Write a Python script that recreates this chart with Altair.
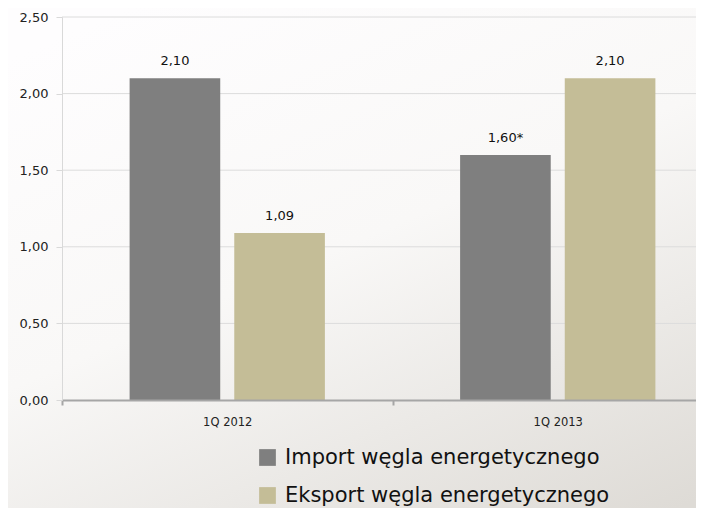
import altair as alt
import pandas as pd

categories = ["1Q 2012", "1Q 2012", "1Q 2013", "1Q 2013"]
series = ["Import węgla energetycznego", "Eksport węgla energetycznego",
          "Import węgla energetycznego", "Eksport węgla energetycznego"]
values = [2.10, 1.09, 1.60, 2.10]
labels = ["2,10", "1,09", "1,60*", "2,10"]
y_ticks = [0.0, 0.5, 1.0, 1.5, 2.0, 2.5]
series_order = ["Import węgla energetycznego", "Eksport węgla energetycznego"]
series_colors = ["#7f7f7f", "#c4bd97"]

FONT = "DejaVu Sans"

df = pd.DataFrame({"cat": categories, "series": series, "value": values, "label": labels})
grid_df = pd.DataFrame({"v": y_ticks[1:]})
bg_df = pd.DataFrame({"a": [0]})

x_enc = alt.X("cat:N", title=None, sort=None,
              scale=alt.Scale(range=[0, 661], paddingInner=0, paddingOuter=0),
              axis=alt.Axis(labelAngle=0, labelFont=FONT, labelFontSize=11.5, labelColor="#222",
                            domainColor="#a6a6a6", domainWidth=2, tickColor="#a6a6a6",
                            tickWidth=2, tickSize=5, tickBand="extent", labelPadding=11,
                            zindex=1))
xo_enc = alt.XOffset("series:N", sort=series_order,
                     scale=alt.Scale(paddingInner=0.134, paddingOuter=0.646))
y_scale = alt.Scale(domain=[0, 2.5], nice=False)

bg = alt.Chart(bg_df).mark_rect(
    color=alt.Gradient(gradient="linear", x1=0.2, y1=0, x2=0.8, y2=1,
                       stops=[alt.GradientStop(offset=0, color="#fefdfe"),
                              alt.GradientStop(offset=0.45, color="#f9f8f7"),
                              alt.GradientStop(offset=1, color="#dedbd6")])
).encode(x=alt.value(-60), x2=alt.value(700), y=alt.value(-20), y2=alt.value(520))

grid = alt.Chart(grid_df).mark_rule(color="#dcdcdc", strokeWidth=1).encode(
    y=alt.Y("v:Q", scale=y_scale),
    x=alt.value(0), x2=alt.value(700)
)

bars = alt.Chart(df).mark_bar().encode(
    x=x_enc,
    xOffset=xo_enc,
    y=alt.Y("value:Q", scale=y_scale, title=None,
            axis=alt.Axis(values=y_ticks, grid=False, labelFont=FONT, labelFontSize=13,
                          labelColor="#222", domainColor="#d9d9d9", tickColor="#d9d9d9",
                          tickSize=6, labelPadding=8, zindex=1,
                          labelExpr="replace(format(datum.value, '.2f'), '.', ',')")),
    color=alt.Color("series:N", sort=series_order,
                    scale=alt.Scale(domain=series_order, range=series_colors),
                    legend=alt.Legend(title=None, orient="none", legendX=195, legendY=430,
                                      direction="vertical", symbolType="square",
                                      symbolSize=280, symbolStrokeWidth=0,
                                      labelFont=FONT, labelFontSize=21, labelColor="#111",
                                      rowPadding=16, labelOffset=7, labelLimit=500))
)

text = alt.Chart(df).mark_text(dy=-17, font=FONT, fontSize=13, color="#111").encode(
    x=x_enc,
    xOffset=xo_enc,
    y=alt.Y("value:Q", scale=y_scale),
    text="label:N"
)

chart = alt.layer(bg, grid, bars, text).properties(
    width=634, height=383,
    autosize=alt.AutoSizeParams(type="none"),
    padding={"left": 54, "top": 9, "right": 0, "bottom": 108},
    background="#f4f3f1"
).configure_view(stroke=None)

chart.save("out.html", embed_options={"renderer": "svg", "actions": False})
